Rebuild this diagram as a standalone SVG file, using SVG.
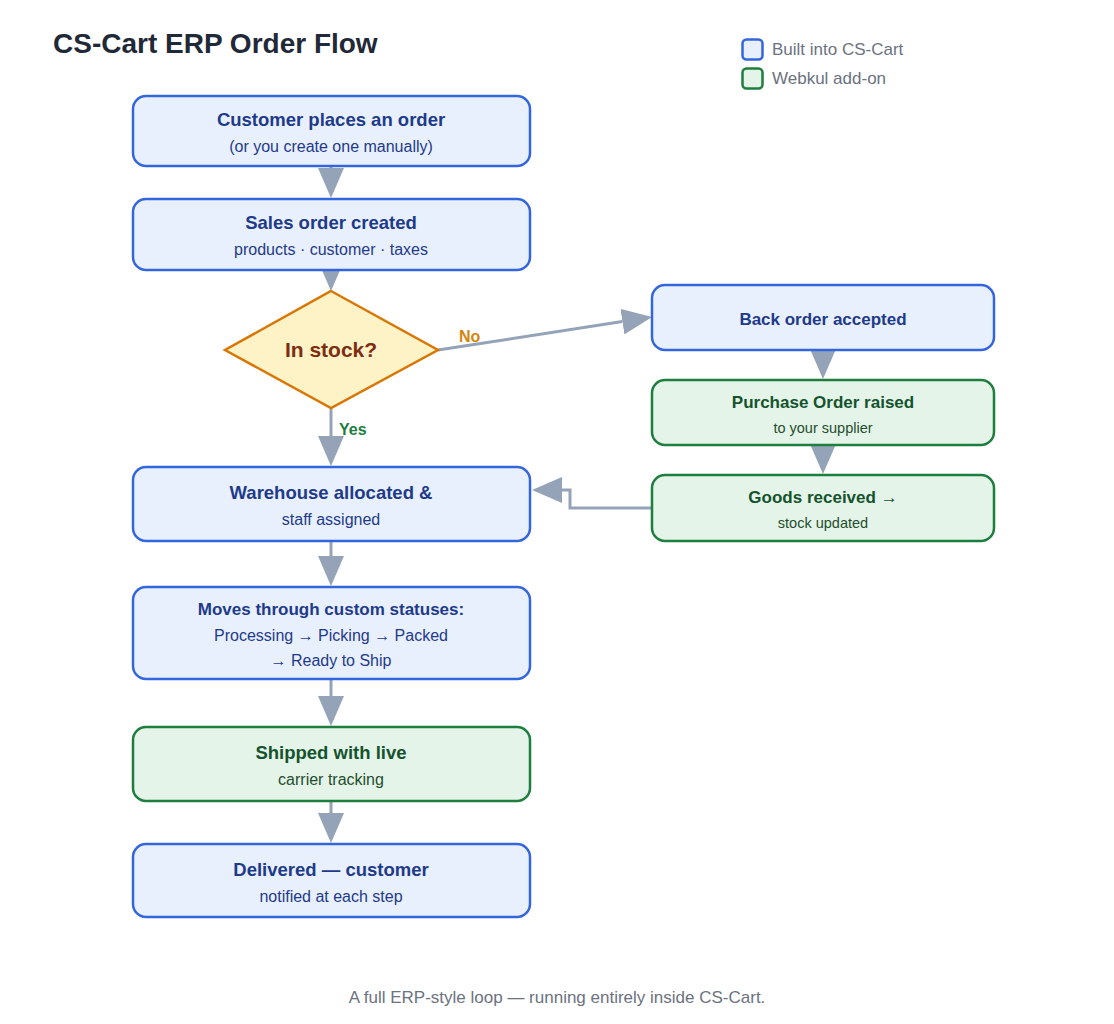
<svg xmlns="http://www.w3.org/2000/svg" width="1114" height="1024" viewBox="0 0 1114 1024">
<style>
text{font-family:"Liberation Sans",Arial,sans-serif;text-anchor:middle}
.blue rect{fill:#e9f0fd;stroke:#3366dd;stroke-width:2.5}
.green rect{fill:#e5f4e9;stroke:#1e7e3e;stroke-width:2.5}
.bt{fill:#1e3a8a;font-weight:bold;font-size:18.5px}
.bs{fill:#1e3a8a;font-size:16px}
.gt{fill:#14532d;font-weight:bold;font-size:18.5px}
.gs{fill:#1f4d2e;font-size:16px}
.rt{font-size:17px}
.rs{font-size:14.5px}
.conn{fill:none;stroke:#94a3b8;stroke-width:3}
.lbl{font-weight:bold;font-size:16px;text-anchor:start}
</style>
<defs>
<marker id="ah" markerUnits="userSpaceOnUse" markerWidth="30" markerHeight="26" viewBox="0 0 30 26" refX="0" refY="13" orient="auto">
<path d="M0,0 L30,13 L0,26 z" fill="#94a3b8"/>
</marker>
</defs>
<rect width="1114" height="1024" fill="#ffffff"/>
<text x="53" y="53" style="text-anchor:start;font-size:28px;font-weight:bold;fill:#1f2937">CS-Cart ERP Order Flow</text>
<g id="legend">
<rect x="742.5" y="39.5" width="20" height="20" rx="4" fill="#e9f0fd" stroke="#3366dd" stroke-width="2.5"/>
<text x="772" y="55" style="text-anchor:start;font-size:17px;fill:#6b7280">Built into CS-Cart</text>
<rect x="742.5" y="68.5" width="20" height="20" rx="4" fill="#e5f4e9" stroke="#1e7e3e" stroke-width="2.5"/>
<text x="772" y="84" style="text-anchor:start;font-size:17px;fill:#6b7280">Webkul add-on</text>
</g>
<g id="connectors">
<path class="conn" d="M331,160 V168" marker-end="url(#ah)"/>
<path class="conn" d="M331,255 V261" marker-end="url(#ah)"/>
<path class="conn" d="M331,408 V436" marker-end="url(#ah)"/>
<path class="conn" d="M438,350 L622.4,321.6" marker-end="url(#ah)"/>
<text class="lbl" x="459" y="342" fill="#d4860b">No</text>
<text class="lbl" x="339" y="435" fill="#1e7e3e">Yes</text>
<path class="conn" d="M823,343 V349" marker-end="url(#ah)"/>
<path class="conn" d="M823,438 V444" marker-end="url(#ah)"/>
<path class="conn" d="M652,508 H570 V490 H562" marker-end="url(#ah)"/>
<path class="conn" d="M331,541 V556" marker-end="url(#ah)"/>
<path class="conn" d="M331,679 V696" marker-end="url(#ah)"/>
<path class="conn" d="M331,801 V813" marker-end="url(#ah)"/>
</g>
<g id="n1" class="blue">
<rect x="133" y="96" width="397" height="70" rx="13"/>
<text class="bt" x="331" y="126">Customer places an order</text>
<text class="bs" x="331" y="152">(or you create one manually)</text>
</g>
<g id="n2" class="blue">
<rect x="133" y="199" width="397" height="71" rx="13"/>
<text class="bt" x="331" y="229">Sales order created</text>
<text class="bs" x="331" y="255">products · customer · taxes</text>
</g>
<g id="n3">
<polygon points="331,291 438,350 331,408 225,350" fill="#fef3c7" stroke="#d97706" stroke-width="2.5"/>
<text x="331" y="357" style="font-size:21px;font-weight:bold;fill:#7c2d12">In stock?</text>
</g>
<g id="n4" class="blue">
<rect x="652" y="285" width="342" height="65" rx="13"/>
<text class="bt rt" x="823" y="325">Back order accepted</text>
</g>
<g id="n5" class="green">
<rect x="652" y="380" width="342" height="65" rx="13"/>
<text class="gt rt" x="823" y="408">Purchase Order raised</text>
<text class="gs rs" x="823" y="433">to your supplier</text>
</g>
<g id="n6" class="green">
<rect x="652" y="475" width="342" height="66" rx="13"/>
<text class="gt rt" x="823" y="503">Goods received →</text>
<text class="gs rs" x="823" y="528">stock updated</text>
</g>
<g id="n7" class="blue">
<rect x="133" y="467" width="397" height="74" rx="13"/>
<text class="bt" x="331" y="499">Warehouse allocated &amp;</text>
<text class="bs" x="331" y="525">staff assigned</text>
</g>
<g id="n8" class="blue">
<rect x="133" y="587" width="397" height="92" rx="13"/>
<text class="bt rt" x="331" y="615">Moves through custom statuses:</text>
<text class="bs" x="331" y="641">Processing → Picking → Packed</text>
<text class="bs" x="331" y="666">→ Ready to Ship</text>
</g>
<g id="n9" class="green">
<rect x="133" y="727" width="397" height="74" rx="13"/>
<text class="gt" x="331" y="759">Shipped with live</text>
<text class="gs" x="331" y="785">carrier tracking</text>
</g>
<g id="n10" class="blue">
<rect x="133" y="844" width="397" height="73" rx="13"/>
<text class="bt" x="331" y="876">Delivered — customer</text>
<text class="bs" x="331" y="902">notified at each step</text>
</g>
<text x="557" y="1003" style="font-size:17px;fill:#6b7280">A full ERP-style loop — running entirely inside CS-Cart.</text>
</svg>
